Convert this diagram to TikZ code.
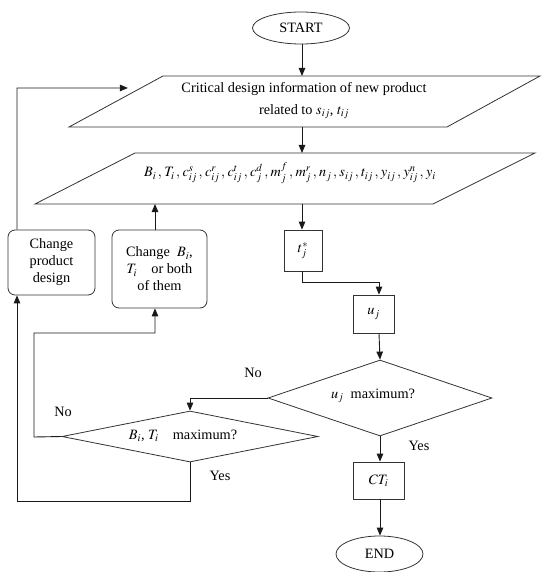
\documentclass[tikz,border=0pt]{standalone}
\usepackage{mathptmx}
\usepackage[no-math]{fontspec}
\setmainfont{Liberation Serif}
\usetikzlibrary{shapes.geometric,arrows.meta,calc}
\begin{document}
\begin{tikzpicture}[x=1pt,y=-1pt,
  every node/.style={font=\fontsize{14.3}{17}\selectfont},
  shp/.style={draw=black!80,line width=0.8pt},
  arr/.style={draw=black!90,line width=0.9pt,-{Triangle[length=8pt,width=6.5pt]}},
  ln/.style={draw=black!90,line width=0.9pt},
  term/.style={shp,ellipse,inner sep=0pt},
  procbox/.style={shp,rectangle,inner sep=0pt},
  rbox/.style={shp,rectangle,rounded corners=7pt,inner sep=0pt,align=center},
  dia/.style={shp,diamond,aspect=3,inner sep=0pt},
  lbl/.style={inner sep=0pt}]
\useasboundingbox (0,0) rectangle (541,572);

% terminals
\node[term,minimum width=97pt,minimum height=32pt] (start) at (301,28) {START};
\node[term,minimum width=87pt,minimum height=36pt] (endn) at (379.5,554) {END};

% parallelogram 1
\coordinate (p1tl) at (163,76);
\coordinate (p1tr) at (540,76);
\coordinate (p1br) at (447,127);
\coordinate (p1bl) at (69,127);
\draw[shp] (p1tl) -- (p1tr) -- (p1br) -- (p1bl) -- cycle;
\node[lbl,align=center,font=\fontsize{14.3}{22}\selectfont] (info) at (304,101)
  {Critical design information of new product\\ related to $s_{ij}$, $t_{ij}$};
\coordinate (p1top) at (302,76);
\coordinate (p1bot) at (302,127);
\coordinate (p1left) at ($(p1tl)!0.235!(p1bl)$);

% parallelogram 2
\coordinate (p2tl) at (135,153);
\coordinate (p2tr) at (535,153);
\coordinate (p2br) at (433,204);
\coordinate (p2bl) at (35,204);
\draw[shp] (p2tl) -- (p2tr) -- (p2br) -- (p2bl) -- cycle;
\node[lbl] (vars) at (290,173)
  {$B_i\,,\mkern1mu T_i\,,\mkern1mu c_{ij}^s\,,\mkern1mu c_{ij}^r\,,\mkern1mu c_{ij}^t\,,\mkern1mu c_j^d\,,\mkern1mu m_j^f\,,\mkern1mu m_j^r\,,\mkern1mu n_j\,,\mkern1mu s_{ij}\,,\mkern1mu t_{ij}\,,\mkern1mu y_{ij}\,,\mkern1mu y_{ij}^n\,,\mkern1mu y_i$};
\coordinate (p2top) at (302,153);
\coordinate (p2bot) at (302,204);
\coordinate (p2botB) at (155,204);

% process boxes
\node[procbox,minimum width=38pt,minimum height=41pt] (tstar) at (303,250.5) {$t_j^*$};
\node[procbox,minimum width=41pt,minimum height=38pt] (uj) at (373.5,314) {$u_j$};
\node[procbox,minimum width=51pt,minimum height=37pt] (ct) at (378.5,480.5) {$CT_i$};

% rounded boxes
\node[rbox,minimum width=87pt,minimum height=65pt] (cpd) at (51.5,262.5) {Change\\ product\\ design};
\node[rbox,minimum width=95pt,minimum height=78pt] (cbt) at (159.5,269) {Change\ \ $B_i$,\\ $T_i$\quad or both\\ of them};

% diamonds
\node[dia,minimum width=224pt,minimum height=76pt] (du) at (380,398) {};
\node[lbl] (dutext) at (373,396) {$u_j$\ \ maximum?};
\node[dia,minimum width=256pt,minimum height=51pt] (db) at (190,436.5) {};
\node[lbl] (dbtext) at (183,436) {$B_i$, $T_i$\quad maximum?};

% labels
\node[lbl] (no1) at (253,373) {No};
\node[lbl] (no2) at (63,412) {No};
\node[lbl] (yes1) at (220,476) {Yes};
\node[lbl] (yes2) at (419,446) {Yes};

% helper coordinates
\coordinate (c1) at (17,88);
\coordinate (c2) at (17,501);
\coordinate (c3) at (190,501);
\coordinate (c4) at (34,437);
\coordinate (c5) at (34,333);
\coordinate (c6) at (155,333);
\coordinate (c7) at (302,282);
\coordinate (c8) at (379,282);
\coordinate (c9) at (190,398);

% connectors
\draw[arr] (start.south -| p1top) -- (p1top);
\draw[arr] (p1bot) -- (p2top);
\draw[arr] (p2bot) -- (tstar.north -| p2bot);
\draw[ln] (tstar.south -| c7) -- (c7) -- (c8);
\draw[arr] (c8) -- (uj.north -| c8);
\draw[arr] (uj.south -| c8) -- (du.north);
\draw[arr] (du.west) -- (c9) -- (db.north);
\draw[arr] (du.south) -- (ct.north -| du.south);
\draw[arr] (ct.south -| du.south) -- (endn.north -| du.south);
\draw[arr] (db.west) -- (c4) -- (c5) -- (c6) -- (cbt.south -| c6);
\draw[arr] (cbt.north -| c6) -- (p2botB);
\draw[arr] (db.south) -- (c3) -- (c2) -- (cpd.south -| c2);
\draw[arr,shorten >=13pt] (cpd.north -| c1) -- (c1) -- (p1left);
\end{tikzpicture}
\end{document}
